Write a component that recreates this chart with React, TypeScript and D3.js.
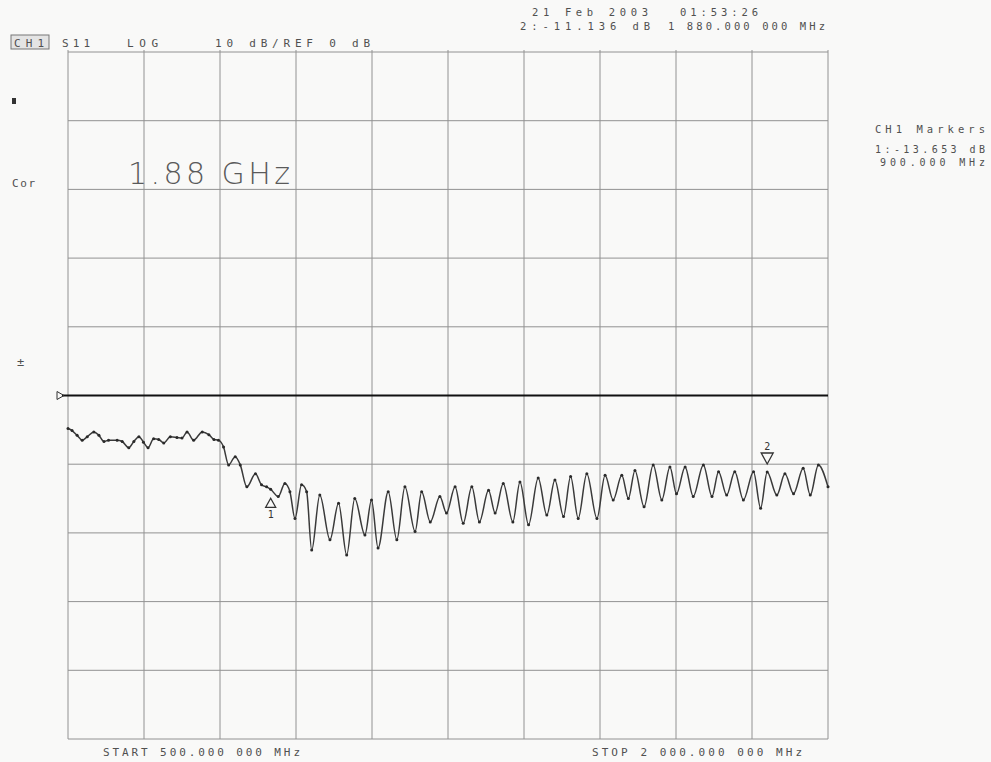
import * as d3 from "d3";

// sweep readings: frequency (MHz) and S11 magnitude (dB)
const freqs = [
  500, 508, 518, 528, 538, 551, 561, 571, 580, 597, 607, 620, 630, 640, 649, 658,
  669, 679, 689, 702, 715, 725, 735, 748, 765, 778, 788, 797, 807, 817, 830, 840,
  853, 870, 882, 892, 900, 915, 928, 938, 948, 961, 971, 981, 997, 1017, 1034, 1050,
  1066, 1086, 1099, 1112, 1132, 1149, 1165, 1185, 1198, 1215, 1234, 1247, 1264, 1280,
  1297, 1312, 1330, 1343, 1359, 1378, 1392, 1409, 1428, 1445, 1461, 1478, 1492, 1507,
  1524, 1544, 1560, 1576, 1593, 1606, 1619, 1637, 1655, 1672, 1688, 1701, 1718, 1734,
  1754, 1771, 1784, 1800, 1816, 1833, 1853, 1867, 1880, 1899, 1915, 1932, 1951, 1965,
  1981, 2000,
];
const s11 = [
  -4.8, -5.1, -5.8, -6.5, -6.0, -5.3, -5.8, -6.7, -6.5, -6.5, -6.7, -7.6, -6.7, -6.0, -6.8, -7.6,
  -6.3, -6.4, -6.9, -6.0, -6.1, -6.2, -5.3, -6.5, -5.3, -5.7, -6.4, -6.5, -7.5, -10.1, -8.9, -10.1,
  -13.3, -11.4, -13.0, -13.3, -13.65, -14.7, -12.8, -14.0, -17.9, -13.0, -14.0, -22.5, -14.5, -21.0, -15.7, -23.2,
  -15.0, -20.3, -15.2, -22.2, -14.0, -21.0, -13.3, -19.8, -14.0, -18.4, -14.7, -17.1, -13.3, -18.6,
  -13.3, -18.4, -13.8, -17.1, -12.8, -18.4, -12.6, -18.8, -12.0, -17.4, -12.3, -17.6, -11.8, -17.9,
  -11.4, -17.9, -11.6, -15.2, -11.6, -15.0, -10.9, -16.2, -10.1, -15.2, -10.4, -14.3, -10.4, -14.7,
  -10.1, -14.7, -11.1, -14.5, -11.1, -15.2, -11.1, -16.4, -11.14, -14.5, -11.4, -14.3, -10.6, -14.5,
  -10.1, -13.3,
];

const markerIds = ["1", "2"];
const markerFreqs = [900, 1880];
const markerValues = [-13.653, -11.136];
const activeMarker = "2";

const startFreq = 500;
const stopFreq = 2000;
const refLevel = 0;
const dbPerDiv = 10;

const sideLines = ["CH1 Markers", "1:-13.653 dB", "900.000 MHz"];

export default function App() {
  const width = 991;
  const height = 762;
  const left = 68;
  const right = 828;
  const top = 52;
  const bottom = 739;

  const x = d3.scaleLinear().domain([startFreq, stopFreq]).range([left, right]);
  const y = d3
    .scaleLinear()
    .domain([refLevel - 5 * dbPerDiv, refLevel + 5 * dbPerDiv])
    .range([bottom, top]);

  const xGrid = d3.range(0, 11).map((i) => startFreq + (i * (stopFreq - startFreq)) / 10);
  const yGrid = d3.range(0, 11).map((i) => refLevel - 5 * dbPerDiv + i * dbPerDiv);

  const points = freqs.map((f, i) => [f, s11[i]] as [number, number]);
  const line = d3
    .line<[number, number]>()
    .x((d) => x(d[0]))
    .y((d) => y(d[1]))
    .curve(d3.curveMonotoneX);

  const ink = "#505050";
  const mono = "'DejaVu Sans Mono', 'Liberation Mono', monospace";

  // small helper for the plotter-style labels
  const label = (t: string, tx: number, ty: number, len: number, size = 11) => (
    <text
      key={t}
      x={tx}
      y={ty}
      fontFamily={mono}
      fontSize={size}
      fill={ink}
      textLength={len}
      lengthAdjust="spacing"
    >
      {t}
    </text>
  );

  return (
    <svg
      width={width}
      height={height}
      viewBox={`0 0 ${width} ${height}`}
      style={{ position: "absolute", left: 0, top: 0, background: "#f9f9f8" }}
    >
      {/* header */}
      <rect x="11" y="35" width="38" height="14" fill="#e4e4e4" stroke="#777" strokeWidth="1" />
      {label("CH1", 14, 47, 30)}
      {label("S11", 62, 47, 28)}
      {label("LOG", 127, 47, 31)}
      {label("10 dB/REF 0 dB", 215, 47, 155)}
      {label("21 Feb 2003", 532, 16, 116, 10.5)}
      {label("01:53:26", 680, 16, 78, 10.5)}
      {label("2:-11.136 dB", 520, 29.5, 130, 10.5)}
      {label("1 880.000 000 MHz", 668, 29.5, 157, 10.5)}

      {/* left annotations */}
      <rect x="12" y="98" width="4" height="6" fill="#333" />
      {label("Cor", 12, 187, 23)}
      <text x="17" y="366" fontFamily={mono} fontSize="12" fill={ink}>
        ±
      </text>

      {/* grid */}
      {xGrid.map((f) => (
        <line
          key={`v${f}`}
          x1={x(f)}
          x2={x(f)}
          y1={top - 2}
          y2={bottom}
          stroke="#929292"
          strokeWidth="1"
        />
      ))}
      {yGrid.map((v) => (
        <line
          key={`h${v}`}
          x1={left}
          x2={right}
          y1={y(v)}
          y2={y(v)}
          stroke={v === refLevel ? "#111" : "#929292"}
          strokeWidth={v === refLevel ? 2 : 1}
        />
      ))}
      <line x1={left - 6} x2={left} y1={y(refLevel)} y2={y(refLevel)} stroke="#111" strokeWidth="2" />
      <path
        d={`M ${left - 11} ${y(refLevel) - 4} L ${left - 4} ${y(refLevel)} L ${left - 11} ${y(refLevel) + 4} Z`}
        fill="none"
        stroke="#333"
        strokeWidth="1"
      />

      <text
        x="128"
        y="184"
        fontFamily="'DejaVu Sans', sans-serif"
        fontSize="30"
        fill="#5a5a5a"
        fontWeight="300"
        textLength="162"
        lengthAdjust="spacing"
      >
        1.88 GHz
      </text>

      {/* trace */}
      <path d={line(points) ?? ""} fill="none" stroke="#3a3a3a" strokeWidth="1.5" />
      {points.map((p, i) => (
        <circle key={i} cx={x(p[0])} cy={y(p[1])} r="1.5" fill="#2a2a2a" />
      ))}

      {/* markers */}
      {markerIds.map((id, i) => {
        const mx = x(markerFreqs[i]);
        const my = y(markerValues[i]);
        if (id === activeMarker) {
          return (
            <g key={id}>
              <path
                d={`M ${mx - 6} ${my - 19} L ${mx + 6} ${my - 19} L ${mx} ${my - 8} Z`}
                fill="none"
                stroke="#333"
                strokeWidth="1.3"
              />
              <text x={mx} y={my - 22} textAnchor="middle" fontFamily={mono} fontSize="10" fill="#333">
                {id}
              </text>
            </g>
          );
        }
        return (
          <g key={id}>
            <path
              d={`M ${mx} ${my + 9} L ${mx + 5} ${my + 18} L ${mx - 5} ${my + 18} Z`}
              fill="none"
              stroke="#333"
              strokeWidth="1.3"
            />
            <text x={mx} y={my + 29} textAnchor="middle" fontFamily={mono} fontSize="10" fill="#333">
              {id}
            </text>
          </g>
        );
      })}

      {/* right panel */}
      {label(sideLines[0], 875, 133, 110, 10.5)}
      {label(sideLines[1], 875, 152.5, 110, 10)}
      {label(sideLines[2], 880, 166, 105, 10)}

      {/* footer */}
      {label("START 500.000 000 MHz", 103, 756, 197)}
      {label("STOP 2 000.000 000 MHz", 592, 756, 210)}
    </svg>
  );
}
